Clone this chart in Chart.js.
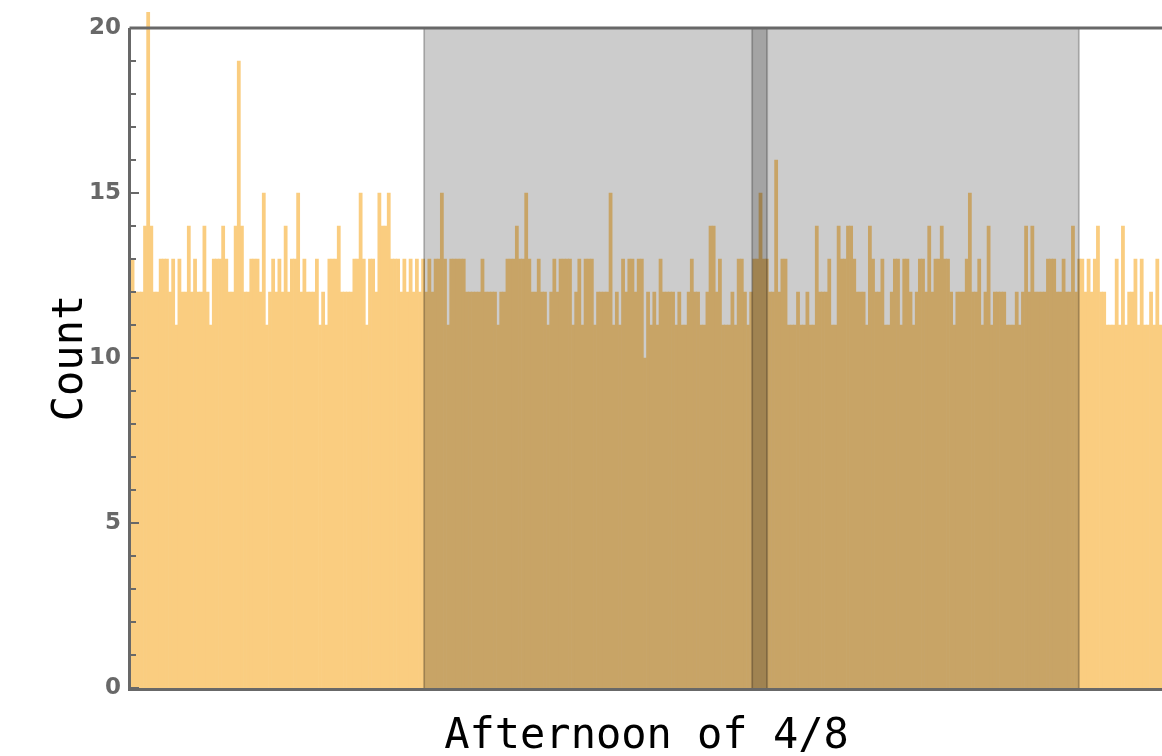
<!DOCTYPE html>
<html>
<head>
<meta charset="utf-8">
<script src="https://cdn.jsdelivr.net/npm/chart.js@4"></script>
<style>
  html, body { margin: 0; padding: 0; background: #fff; }
  canvas { display: block; }
</style>
</head>
<body>
<canvas id="histChart" width="1162" height="756"></canvas>
<script>
/* =========================
   DATA (one bin per minute)
========================= */

// counts per bin, split by the shaded windows
const countsBefore = [
  13,12,12,12,14,21,14,12,12,13, 13,13,12,13,11,13,12,12,14,12,
  13,12,12,14,12,11,13,13,13,14, 13,12,12,14,19,14,12,12,13,13,
  13,12,15,11,12,13,12,13,12,14, 12,13,13,15,12,13,12,12,12,13,
  11,12,11,13,13,13,14,12,12,12, 12,13,13,15,13,11,13,13,12,15,
  14,14,15,13,13,13,12,13,12,13, 12,13,12,13
];
const countsShadeA = [
  12,13,12,13,13,15,13,11,13,13, 13,13,13,12,12,12,12,12,13,12,
  12,12,12,11,12,12,13,13,13,14, 13,13,15,13,
  12,12,13,12,12,11,12,13,12,13, 13,13,13,11,12,13,11,13,13,13,
  11,12,12,12,12,15,11,12,11,13, 12,13,13,12,13,13,10,12,11,12,
  11,13,12,
  12,12,12,11,12,11,11,12,13,12, 12,11,11,12,14,14,12,13,11,11,
  11,12,11,13,13,12,11,12
];
const countsOverlap = [13,13,15,13,13];
const countsShadeB = [
  12,12,16,12,13,13,11,11,11,12,11,
  11,12,11,11,14,12,12,12,13,11, 11,14,13,13,14,14,13,12,12,12,
  11,14,13,12,12,13,11,11,12,13, 13,11,13,13,12,11,12,13,13,12,
  14,12,13,
  13,14,13,13,12,11,12,12,12,13, 15,12,12,13,11,12,14,11,12,12,
  12,12,11,11,11,12,11,12,14,12, 14,12,12,12,12,13,13,13,12,12,
  13,12,12,14,
  12,13
];
const countsAfter = [
  13,12,13,12,13,14,12,12,11,11, 11,13,11,14,11,12,12,13,11,13,
  11,11,12,11,13,11
];

const counts = [...countsBefore, ...countsShadeA, ...countsOverlap, ...countsShadeB, ...countsAfter];

// shaded windows, in bins (minutes from start)
const shadeWindows = [[93.8, 203.6], [198.8, 303.4]];

const yTickValues = [0, 5, 10, 15, 20];
const xTitle = "Afternoon of 4/8";
const yTitle = "Count";


/* =========================
   STYLE
========================= */

const AXIS_GRAY = "#686868";
const BAR_COLOR = "#facd80";
const MONO = "'DejaVu Sans Mono', monospace";


/* =========================
   PLUGIN: shades + frame
========================= */

const framePlugin = {
  id: "frame",
  afterDatasetsDraw(chart) {
    const { ctx, chartArea: a, scales: { x } } = chart;
    ctx.save();
    shadeWindows.forEach(([from, to]) => {
      const x0 = x.getPixelForValue(from);
      const x1 = x.getPixelForValue(to);
      ctx.fillStyle = "rgba(0,0,0,0.2)";
      ctx.fillRect(x0, a.top, x1 - x0, a.bottom - a.top);
      ctx.strokeStyle = "rgba(0,0,0,0.22)";
      ctx.lineWidth = 2;
      ctx.beginPath();
      ctx.moveTo(x0, a.top); ctx.lineTo(x0, a.bottom);
      ctx.moveTo(x1, a.top); ctx.lineTo(x1, a.bottom);
      ctx.stroke();
    });
    ctx.restore();
  },
  afterDraw(chart) {
    const { ctx, chartArea: a, scales: { y } } = chart;
    ctx.save();
    ctx.strokeStyle = AXIS_GRAY;
    // inward ticks
    ctx.lineWidth = 2;
    y.ticks.forEach(t => {
      const py = y.getPixelForValue(t.value);
      const len = t.value % 5 === 0 ? 8 : 5;
      ctx.beginPath();
      ctx.moveTo(a.left, py);
      ctx.lineTo(a.left + len, py);
      ctx.stroke();
    });
    // frame lines
    ctx.lineWidth = 3;
    ctx.beginPath();
    ctx.moveTo(a.left - 1.5, a.top);
    ctx.lineTo(a.right, a.top);
    ctx.moveTo(a.left - 1.5, a.top);
    ctx.lineTo(a.left - 1.5, a.bottom + 1.5);
    ctx.lineTo(a.right, a.bottom + 1.5);
    ctx.stroke();
    ctx.restore();
  }
};


/* =========================
   CHART
========================= */

new Chart(document.getElementById("histChart"), {
  type: "bar",
  data: {
    datasets: [{
      data: counts.map((v, i) => ({ x: i + 0.5, y: v })),
      backgroundColor: BAR_COLOR,
      borderWidth: 0,
      barPercentage: 1,
      categoryPercentage: 1,
      grouped: false,
      clip: { left: 0, top: 16, right: 0, bottom: 0 }
    }]
  },
  options: {
    responsive: false,
    animation: false,
    layout: { padding: { top: 28, right: 0, bottom: 0, left: 0 } },
    plugins: { legend: { display: false }, tooltip: { enabled: false } },
    scales: {
      x: {
        type: "linear",
        min: 0,
        max: counts.length,
        offset: false,
        grid: { display: false, drawTicks: false },
        border: { display: false },
        ticks: { display: false },
        title: {
          display: true,
          text: xTitle,
          color: "#000",
          font: { family: MONO, size: 42, lineHeight: 1 },
          padding: { top: 0, bottom: -2 }
        },
        afterFit: s => { s.height = 68; }
      },
      y: {
        min: 0,
        max: 20,
        grid: { display: false, drawTicks: false },
        border: { display: false },
        ticks: {
          stepSize: 1,
          autoSkip: false,
          padding: 10,
          color: AXIS_GRAY,
          font: { family: "'DejaVu Sans', sans-serif", size: 23, weight: "bold" },
          callback: v => (yTickValues.includes(v) ? String(v) : "")
        },
        title: {
          display: true,
          text: yTitle,
          color: "#000",
          font: { family: MONO, size: 42, lineHeight: 1 },
          padding: { top: 50, bottom: 0 }
        },
        afterFit: s => { s.width = 131; }
      }
    }
  },
  plugins: [framePlugin]
});
</script>
</body>
</html>
